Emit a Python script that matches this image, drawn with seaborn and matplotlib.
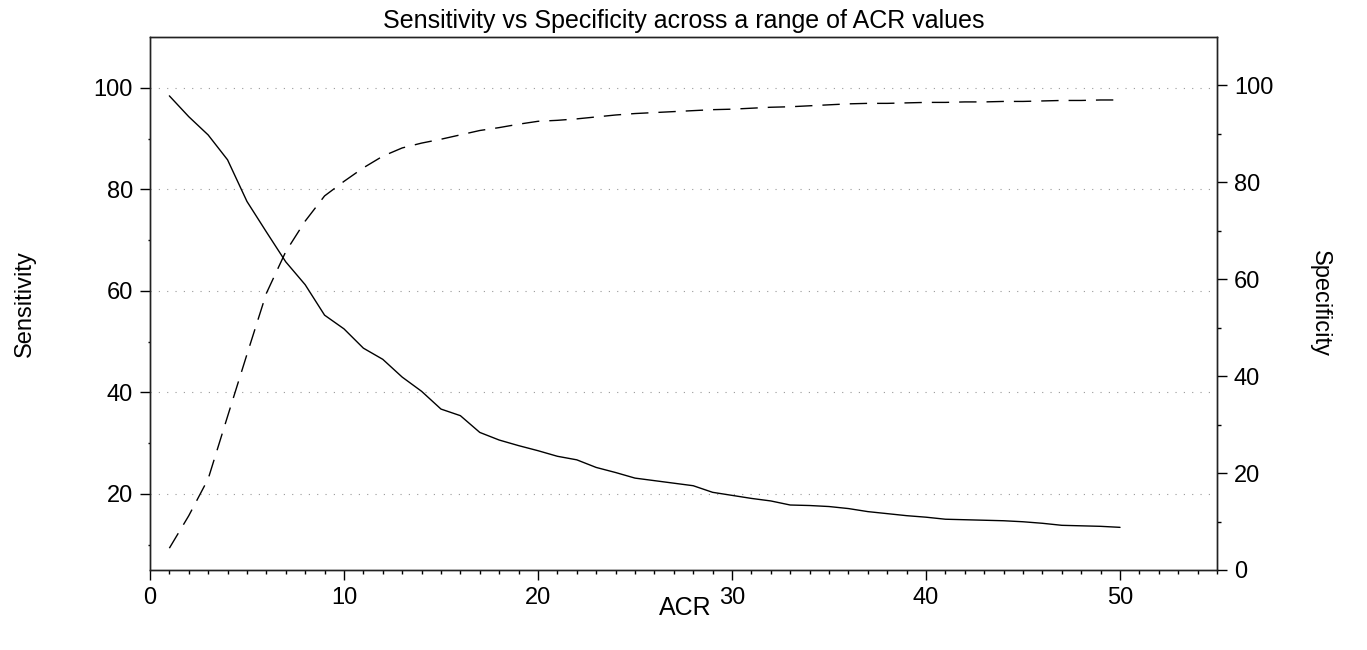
import matplotlib
matplotlib.use("Agg")
import matplotlib.pyplot as plt
import numpy as np
import pandas as pd
import seaborn as sns
from matplotlib.ticker import MultipleLocator

# ---------------- data ----------------
acr = list(range(1, 51))
sensitivity = [98.4, 94.3, 90.7, 85.8, 77.6, 71.6, 65.7, 61.2, 55.2, 52.5,
               48.7, 46.5, 43.0, 40.2, 36.7, 35.4, 32.1, 30.6, 29.5, 28.5,
               27.4, 26.7, 25.2, 24.2, 23.1, 22.6, 22.1, 21.6, 20.3, 19.7,
               19.1, 18.6, 17.8, 17.7, 17.5, 17.1, 16.5, 16.1, 15.7, 15.4,
               15.0, 14.9, 14.8, 14.7, 14.5, 14.2, 13.8, 13.7, 13.6, 13.4]
specificity = [4.5, 11.2, 18.8, 31.7, 44.5, 57.1, 65.7, 72.0, 77.2, 80.2,
               83.0, 85.4, 87.1, 88.1, 88.9, 89.8, 90.7, 91.3, 92.0, 92.6,
               92.8, 93.1, 93.5, 93.9, 94.2, 94.4, 94.6, 94.8, 95.0, 95.1,
               95.3, 95.5, 95.6, 95.8, 96.0, 96.2, 96.3, 96.3, 96.4, 96.5,
               96.5, 96.6, 96.6, 96.7, 96.7, 96.8, 96.9, 96.9, 97.0, 97.0]

title = "Sensitivity vs Specificity across a range of ACR values"
x_label = "ACR"
left_label = "Sensitivity"
right_label = "Specificity"
x_ticks = [0, 10, 20, 30, 40, 50]
left_ticks = [20, 40, 60, 80, 100]
left_minor = [10, 30, 50, 70, 90]
right_ticks = [0, 20, 40, 60, 80, 100]
right_minor = [10, 30, 50, 70, 90]

# ---------------- style ----------------
sns.set_style("ticks")
plt.rcParams["font.family"] = ["Liberation Sans", "DejaVu Sans"]
for k in ("text.color", "axes.labelcolor", "xtick.color", "ytick.color"):
    plt.rcParams[k] = "black"
FS = 17
spine_c = "#222222"

df = pd.DataFrame({"ACR": acr, "Sensitivity": sensitivity, "Specificity": specificity})

fig = plt.figure(figsize=(13.67, 6.5), dpi=100)
ax = fig.add_axes([0.1097, 0.1231, 0.7806, 0.8200])

sns.lineplot(data=df, x="ACR", y="Sensitivity", ax=ax, color="black", lw=1.0)
ax2 = ax.twinx()
sns.lineplot(data=df, x="ACR", y="Specificity", ax=ax2, color="black", lw=1.0,
             linestyle=(0, (12.5, 7.2)))

ax.set_xlim(0, 55)
ax.set_ylim(5, 110)
ax2.set_ylim(0, 110)

ax.set_xticks(x_ticks)
ax.xaxis.set_minor_locator(MultipleLocator(1))
ax.set_yticks(left_ticks)
ax.set_yticks(left_minor, minor=True)
ax2.set_yticks(right_ticks)
ax2.set_yticks(right_minor, minor=True)

ax.grid(axis="y", which="major", color="#999999", lw=0.8, linestyle=(0, (1, 6.5)))
ax.set_axisbelow(True)

ax.tick_params(axis="x", which="major", length=7.2, width=1, direction="out",
               labelsize=FS, pad=5, color="black", labelcolor="black")
ax.tick_params(axis="x", which="minor", length=3, width=1, direction="out", color="black")
ax.tick_params(axis="y", which="major", length=7.2, width=1, direction="out",
               labelsize=FS, pad=5, color="black", labelcolor="black")
ax.tick_params(axis="y", which="minor", length=1.5, width=1, direction="out", color="black")
ax2.tick_params(axis="y", which="major", length=7.2, width=1, direction="out",
                labelsize=FS, pad=5, color="black", labelcolor="black")
ax2.tick_params(axis="y", which="minor", length=3, width=1, direction="out", color="black")

for a in (ax, ax2):
    for s in a.spines.values():
        s.set_color(spine_c)
        s.set_linewidth(1.0)

ax.set_xlabel(x_label, fontsize=18, va="center", color="black")
ax.xaxis.set_label_coords(0.502, -0.0713)
ax.set_ylabel(left_label, fontsize=FS, va="center", color="black")
ax.yaxis.set_label_coords(-0.117, 0.5)
ax2.set_ylabel(right_label, fontsize=FS, rotation=270, va="center", color="black")
ax2.yaxis.set_label_coords(1.0965, 0.5)

ax.set_title(title, fontsize=18, pad=6.5, color="black")

fig.savefig("out.png", dpi=100)
